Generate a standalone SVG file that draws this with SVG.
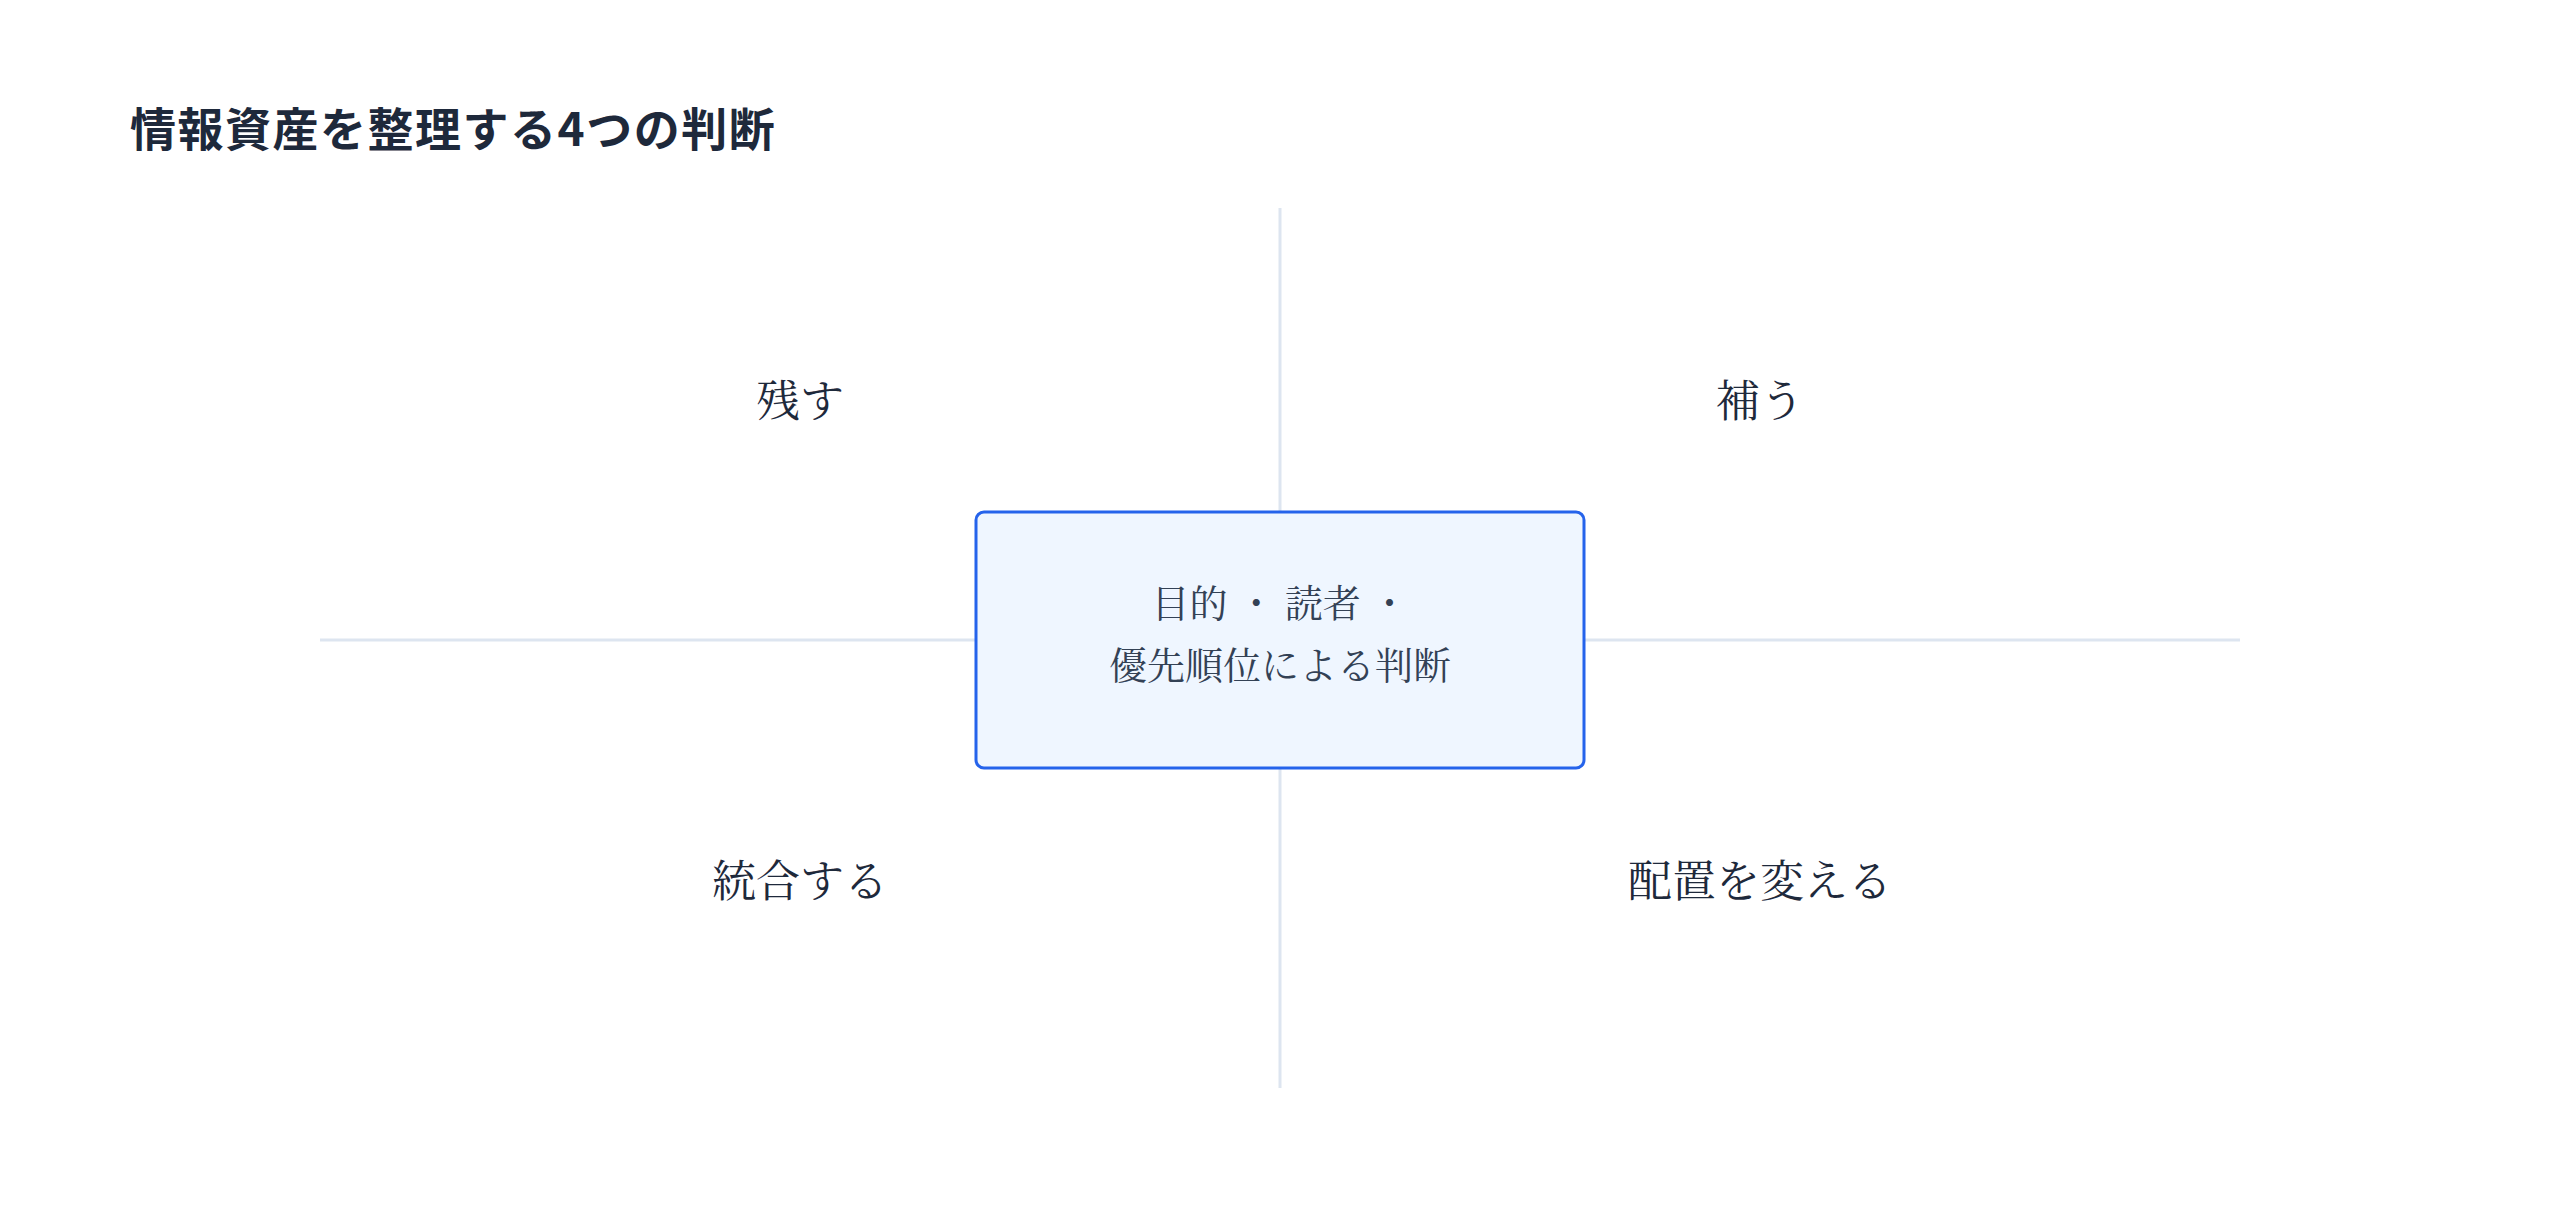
<svg xmlns="http://www.w3.org/2000/svg" width="2560" height="1216" viewBox="0 0 2560 1216">
  <style>
    .title { font-family: "Noto Sans CJK JP", "Noto Sans", sans-serif; font-weight: 700; font-size: 46px; letter-spacing: 1.5px; fill: #1e293b; }
    .label { font-family: "Noto Serif CJK JP", "Noto Sans CJK JP", serif; font-size: 44px; fill: #1e293b; text-anchor: middle; }
    .center-text { font-family: "Noto Serif CJK JP", "Noto Sans CJK JP", serif; font-size: 38px; fill: #334155; text-anchor: middle; }
    .axis { stroke: #dde5f0; stroke-width: 3; fill: none; }
    .core { fill: #eff6ff; stroke: #2563eb; stroke-width: 3; }
  </style>
  <rect x="0" y="0" width="2560" height="1216" fill="#ffffff"/>
  <text class="title" x="130" y="146">情報資産を整理する4つの判断</text>
  <g id="connectors">
    <line class="axis" x1="1280" y1="208" x2="1280" y2="1088"/>
    <line class="axis" x1="320" y1="640" x2="2240" y2="640"/>
  </g>
  <g id="node-keep">
    <text class="label" x="800" y="417">残す</text>
  </g>
  <g id="node-supplement">
    <text class="label" x="1760" y="417">補う</text>
  </g>
  <g id="node-merge">
    <text class="label" x="800" y="897">統合する</text>
  </g>
  <g id="node-relocate">
    <text class="label" x="1760" y="897">配置を変える</text>
  </g>
  <g id="node-center">
    <rect class="core" x="976" y="512" width="608" height="256" rx="8" ry="8"/>
    <text class="center-text" x="1280" y="617">目的 ・ 読者 ・</text>
    <text class="center-text" x="1280" y="679">優先順位による判断</text>
  </g>
</svg>
